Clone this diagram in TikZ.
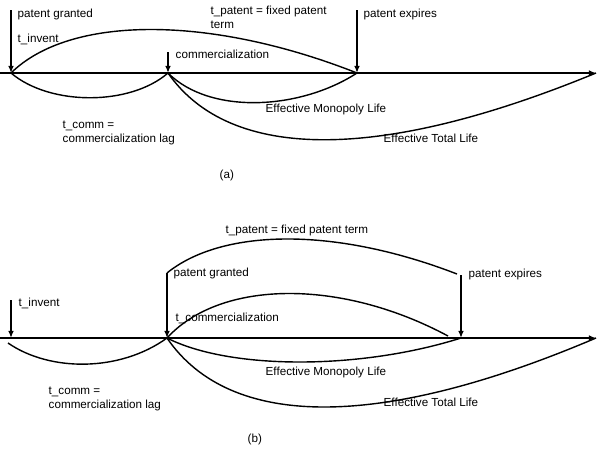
\documentclass[tikz,border=0pt]{standalone}
\usepackage{fontspec}
\setmainfont{Liberation Sans}
\usetikzlibrary{arrows.meta}

\begin{document}
\begin{tikzpicture}[x=0.025cm, y=-0.025cm, line width=1pt,
    lbl/.style={anchor=west, inner sep=0pt, align=left, font=\fontsize{8.3}{10}\selectfont},
    arr/.style={-{Latex[length=5pt,width=4pt]}}]
  \useasboundingbox (0,0) rectangle (600,450);

  % (a) invention and grant at the same time
  \coordinate (a0)     at (0,73);
  \coordinate (aEnd)   at (596,73);
  \coordinate (aInv)   at (11,73);
  \coordinate (aCom)   at (168,73);
  \coordinate (aExp)   at (357,73);
  \coordinate (aInvUp) at (11,10);
  \coordinate (aComUp) at (168,52);
  \coordinate (aExpUp) at (357,10);

  \draw[arr] (a0) -- (aEnd);
  \draw[arr] (aInvUp) -- (aInv);
  \draw[arr] (aComUp) -- (aCom);
  \draw[arr] (aExpUp) -- (aExp);

  \draw (aInv) .. controls (70,15) and (210,15) .. (aExp);
  \draw (aInv) .. controls (50,106) and (130,106) .. (aCom);
  \draw (aCom) .. controls (210,115) and (300,110) .. (aExp);
  \draw (aCom) .. controls (230,162) and (380,162) .. (aEnd);

  \node[lbl] (aGrant)  at (17,14)  {patent granted};
  \node[lbl] (aInvent) at (17,39)  {t\_invent};
  \node[lbl] (aComm)   at (175,54) {commercialization};
  \node[lbl] (aExpire) at (363,14) {patent expires};
  \node[lbl] (aTerm)   at (210,17) {t\_patent = fixed patent\\term};
  \node[lbl] (aMono)   at (265,109) {Effective Monopoly Life};
  \node[lbl] (aTotal)  at (383,138) {Effective Total Life};
  \node[lbl] (aLag)    at (62,133) {t\_comm =\\commercialization lag};
  \node[lbl] (aCap)    at (219,175) {(a)};

  % (b) grant at commercialization
  \coordinate (b0)     at (0,338);
  \coordinate (bEnd)   at (596,338);
  \coordinate (bInv)   at (11,338);
  \coordinate (bCom)   at (167,338);
  \coordinate (bExp)   at (461,338);
  \coordinate (bInvUp) at (11,300);
  \coordinate (bComUp) at (167,273);
  \coordinate (bExpUp) at (461,275);
  \coordinate (bLow)   at (8,343);
  \coordinate (bTop)   at (457,274);
  \coordinate (bFade)  at (448,336);

  \draw[arr] (b0) -- (bEnd);
  \draw[arr] (bInvUp) -- (bInv);
  \draw[arr] (bComUp) -- (bCom);
  \draw[arr] (bExpUp) -- (bExp);

  \draw (bComUp) .. controls (220,230) and (330,225) .. (bTop);
  \draw (bCom) .. controls (220,280) and (340,278) .. (bFade);
  \draw (bLow) .. controls (50,372) and (120,372) .. (bCom);
  \draw (bCom) .. controls (230,370) and (360,370) .. (bExp);
  \draw (bCom) .. controls (230,430) and (380,430) .. (bEnd);

  \node[lbl] (bInvent) at (18,303)  {t\_invent};
  \node[lbl] (bGrant)  at (173,273) {patent granted};
  \node[lbl] (bComm)   at (175,318) {t\_commercialization};
  \node[lbl] (bTerm)   at (225,230) {t\_patent = fixed patent term};
  \node[lbl] (bExpire) at (468,274) {patent expires};
  \node[lbl] (bMono)   at (265,372) {Effective Monopoly Life};
  \node[lbl] (bTotal)  at (383,402) {Effective Total Life};
  \node[lbl] (bLag)    at (48,399)  {t\_comm =\\commercialization lag};
  \node[lbl] (bCap)    at (247,439) {(b)};
\end{tikzpicture}
\end{document}
